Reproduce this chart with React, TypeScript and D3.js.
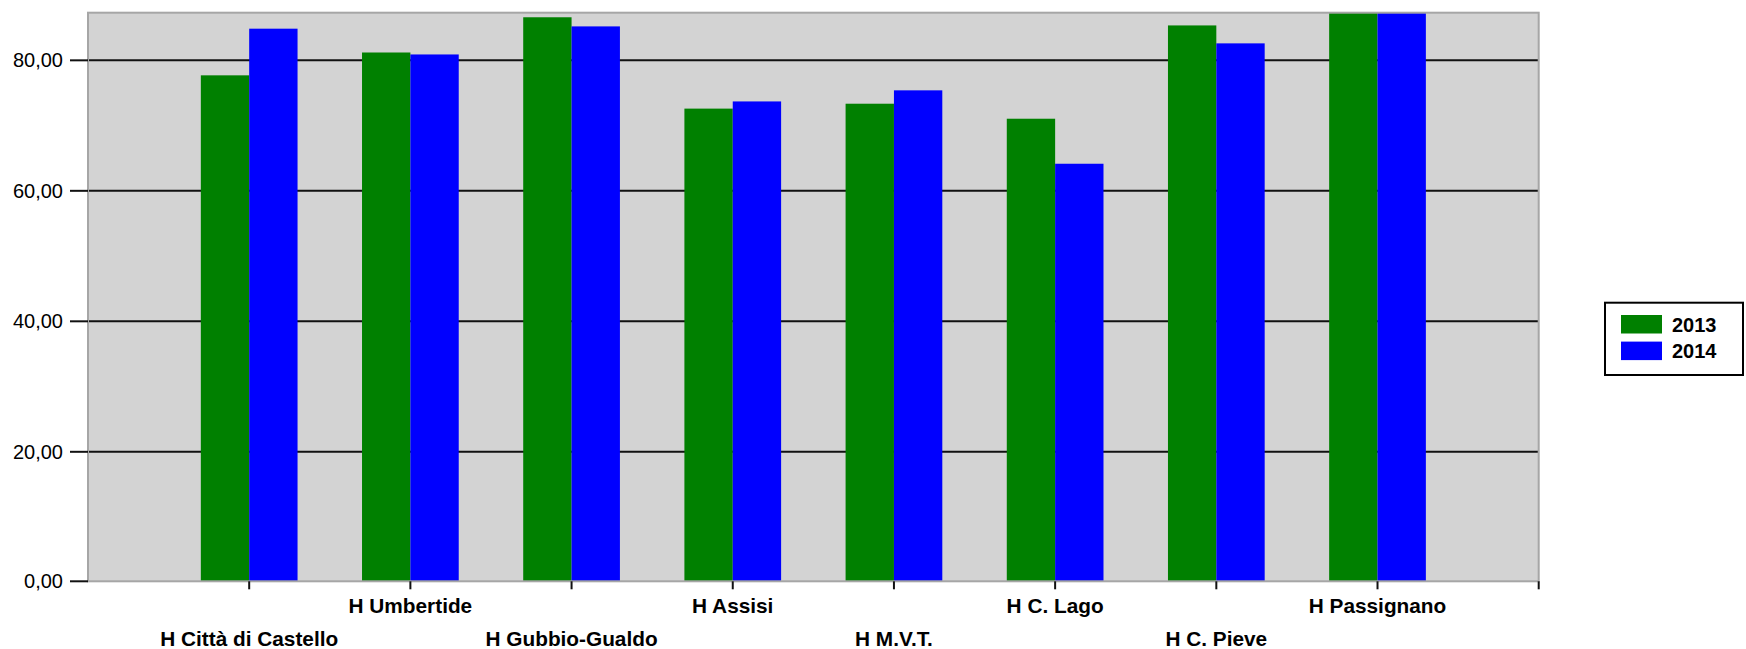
import React from "react";
import * as d3 from "d3";

const categories: string[] = [
  "H Città di Castello",
  "H Umbertide",
  "H Gubbio-Gualdo",
  "H Assisi",
  "H M.V.T.",
  "H C. Lago",
  "H C. Pieve",
  "H Passignano",
];
const values2013: number[] = [77.7, 81.2, 86.6, 72.6, 73.35, 71.05, 85.35, 87.3];
const values2014: number[] = [84.85, 80.9, 85.2, 73.7, 75.4, 64.15, 82.6, 87.3];
const seriesNames: string[] = ["2013", "2014"];
const seriesColors: string[] = ["#008000", "#0000ff"];
const yTicks: number[] = [0, 20, 40, 60, 80];
const yMax = 87.3;

const W = 1746;
const H = 649;
const plot = { left: 88, right: 1538.7, top: 12.7, bottom: 582.3 };
const FONT = "Arial, 'Liberation Sans', sans-serif";

const fmt = (v: number) => v.toFixed(2).replace(".", ",");

export default function App() {
  const x = d3
    .scalePoint<string>()
    .domain(["__start", ...categories, "__end"])
    .range([plot.left, plot.right]);
  const y = d3.scaleLinear().domain([0, yMax]).range([plot.bottom, plot.top]).clamp(true);
  const step = x.step();
  const barW = step * 0.3;
  const series = [values2013, values2014];

  return (
    <svg
      width={W}
      height={H}
      style={{ position: "absolute", left: 0, top: 0, display: "block", background: "#fff" }}
    >
      <rect
        x={plot.left}
        y={plot.top}
        width={plot.right - plot.left}
        height={plot.bottom - plot.top - 1}
        fill="#d3d3d3"
      />
      {yTicks
        .filter((t) => t > 0)
        .map((t) => (
          <line
            key={"g" + t}
            x1={plot.left}
            x2={plot.right}
            y1={y(t)}
            y2={y(t)}
            stroke="#111"
            strokeWidth={2}
          />
        ))}
      {series.map((vals, si) =>
        categories.map((c, ci) => {
          const cx = x(c)!;
          const x0 = cx - barW + si * barW;
          return (
            <rect
              key={si + "-" + ci}
              x={x0}
              y={y(vals[ci])}
              width={barW}
              height={plot.bottom - 1 - y(vals[ci])}
              fill={seriesColors[si]}
            />
          );
        })
      )}
      <rect
        x={plot.left}
        y={plot.top}
        width={plot.right - plot.left}
        height={plot.bottom - plot.top - 1}
        fill="none"
        stroke="#a6a6a6"
        strokeWidth={2}
      />
      {yTicks.map((t) => (
        <g key={"yt" + t}>
          <line x1={70} x2={plot.left} y1={y(t) - (t === 0 ? 1 : 0)} y2={y(t) - (t === 0 ? 1 : 0)} stroke="#111" strokeWidth={2} />
          <text
            x={63}
            y={y(t) - (t === 0 ? 1 : 0)}
            textAnchor="end"
            dominantBaseline="central"
            fontFamily={FONT}
            fontSize={20}
            fill="#000"
          >
            {fmt(t)}
          </text>
        </g>
      ))}
      {[...categories, "__end"].map((c) => (
        <line
          key={"xt" + c}
          x1={x(c)!}
          x2={x(c)!}
          y1={plot.bottom - 1}
          y2={plot.bottom + 7}
          stroke="#111"
          strokeWidth={2}
        />
      ))}
      {categories.map((c, i) => (
        <text
          key={"xl" + c}
          x={x(c)!}
          y={i % 2 === 0 ? 646 : 613.3}
          textAnchor="middle"
          fontFamily={FONT}
          fontWeight="bold"
          fontSize={20.8}
          fill="#000"
        >
          {c}
        </text>
      ))}
      <g>
        <rect x={1605} y={302.7} width={138} height={72.3} fill="#fff" stroke="#000" strokeWidth={2} />
        {seriesNames.map((s, i) => (
          <g key={"lg" + s}>
            <rect x={1621} y={315 + i * 26.6} width={41} height={18.5} fill={seriesColors[i]} />
            <text
              x={1672}
              y={331.7 + i * 26}
              fontFamily={FONT}
              fontWeight="bold"
              fontSize={20}
              fill="#000"
            >
              {s}
            </text>
          </g>
        ))}
      </g>
    </svg>
  );
}
